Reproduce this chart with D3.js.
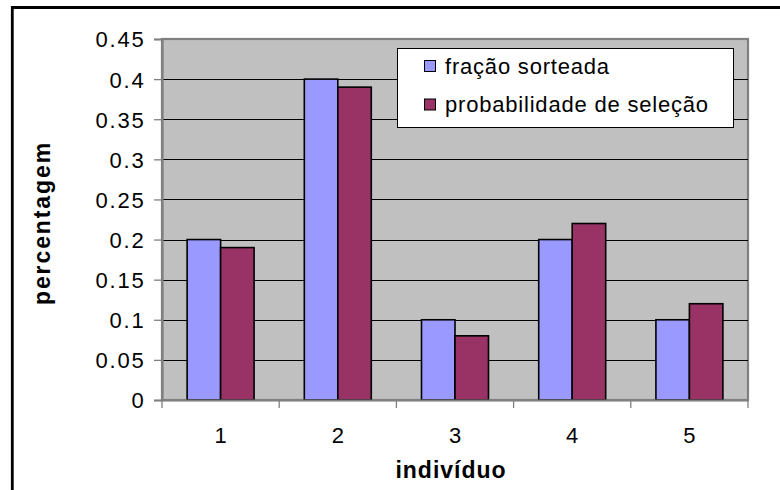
<!DOCTYPE html>
<html><head><meta charset="utf-8">
<script src="https://cdn.jsdelivr.net/npm/d3@7"></script>
<style>
html,body{margin:0;padding:0;background:#fff;}
svg text{font-family:Arial,"Liberation Sans",sans-serif;fill:#000;}
</style></head>
<body><svg id="c" width="780" height="490"></svg>
<script>
const categories = ["1","2","3","4","5"];
const seriesNames = ["fração sorteada","probabilidade de seleção"];
const fracaoSorteada = [0.2, 0.4, 0.1, 0.2, 0.1];
const probSelecao = [0.19, 0.39, 0.08, 0.22, 0.12];
const yTicks = [0,0.05,0.1,0.15,0.2,0.25,0.3,0.35,0.4,0.45];
const colors = ["#9999FF","#993366"];

const svg = d3.select("#c");
svg.append("rect").attr("width",780).attr("height",490).attr("fill","#fff");
// outer chart border
svg.append("path").attr("d","M12.3,495 V7.5 H785").attr("fill","none").attr("stroke","#000").attr("stroke-width",2.8);

const L=162, R=748, T=39, B=400;
const x = d3.scaleBand().domain(categories).range([L,R]).padding(0);
const bw = x.bandwidth();
const off = bw*0.75/3.5;
const x1 = d3.scaleBand().domain(seriesNames).range([off, bw-off]).padding(0);
const y = d3.scaleLinear().domain([0,0.45]).range([B,T]);

// plot area
svg.append("rect").attr("x",L).attr("y",T).attr("width",R-L).attr("height",B-T)
  .attr("fill","#C0C0C0").attr("stroke","#808080").attr("stroke-width",2.2);
// gridlines
svg.append("g").selectAll("line").data(yTicks.filter(d=>d>0 && d<0.45)).join("line")
  .attr("x1",L).attr("x2",R).attr("y1",d=>Math.round(y(d))+0.5).attr("y2",d=>Math.round(y(d))+0.5)
  .attr("stroke","#000").attr("stroke-width",1);

// bars
const data = categories.map((c,i)=>({c, vals:[fracaoSorteada[i], probSelecao[i]]}));
const g = svg.append("g");
data.forEach(d=>{
  d.vals.forEach((v,j)=>{
    g.append("rect").attr("x",x(d.c)+x1(seriesNames[j])).attr("y",y(v))
      .attr("width",x1.bandwidth()).attr("height",B-y(v))
      .attr("fill",colors[j]).attr("stroke","#000").attr("stroke-width",1.6);
  });
});

// y axis
const yAxis = d3.axisLeft(y).tickValues(yTicks).tickFormat(d=>String(+d.toFixed(2))).tickSize(8).tickPadding(10);
const ya = svg.append("g").attr("transform",`translate(${L},0)`).call(yAxis);
ya.select(".domain").attr("stroke","#808080").attr("stroke-width",2.2);
ya.selectAll(".tick line").attr("stroke","#808080").attr("stroke-width",1.3);
ya.selectAll("text").attr("font-size",22).attr("font-family","Arial, 'Liberation Sans', sans-serif")
  .attr("letter-spacing",1.8).attr("dx",1.5).attr("dy","0.36em");

// x axis
const xAxis = d3.axisBottom(x).tickSize(0).tickPadding(27);
const xa = svg.append("g").attr("transform",`translate(0,${B})`).call(xAxis);
xa.select(".domain").attr("stroke","#808080").attr("stroke-width",2.2);
xa.selectAll("text").attr("font-size",22).attr("font-family","Arial, 'Liberation Sans', sans-serif").attr("dy","0.71em");
// x tick marks at band boundaries
const bounds = categories.map(c=>x(c)).concat([R]);
svg.append("g").selectAll("line").data(bounds).join("line")
  .attr("x1",d=>d).attr("x2",d=>d).attr("y1",B).attr("y2",B+8)
  .attr("stroke","#808080").attr("stroke-width",1.3);

// axis titles
svg.append("text").attr("x",451).attr("y",478).attr("text-anchor","middle")
  .attr("font-size",23).attr("font-weight","bold").attr("letter-spacing",1.0).text("indivíduo");
svg.append("text").attr("transform","translate(50,223) rotate(-90)").attr("text-anchor","middle")
  .attr("font-size",23).attr("font-weight","bold").attr("letter-spacing",1.9).text("percentagem");

// legend
const lg = svg.append("g");
lg.append("rect").attr("x",397.5).attr("y",48.5).attr("width",336).attr("height",79)
  .attr("fill","#fff").attr("stroke","#000").attr("stroke-width",1);
seriesNames.forEach((s,i)=>{
  const yy = 60 + i*38.5;
  lg.append("rect").attr("x",424.5).attr("y",yy+0.5).attr("width",11).attr("height",11)
    .attr("fill",colors[i]).attr("stroke","#000").attr("stroke-width",1);
  lg.append("text").attr("x",445).attr("y",yy+13.5).attr("font-size",22).attr("letter-spacing",0.8).text(s);
});
</script></body></html>
